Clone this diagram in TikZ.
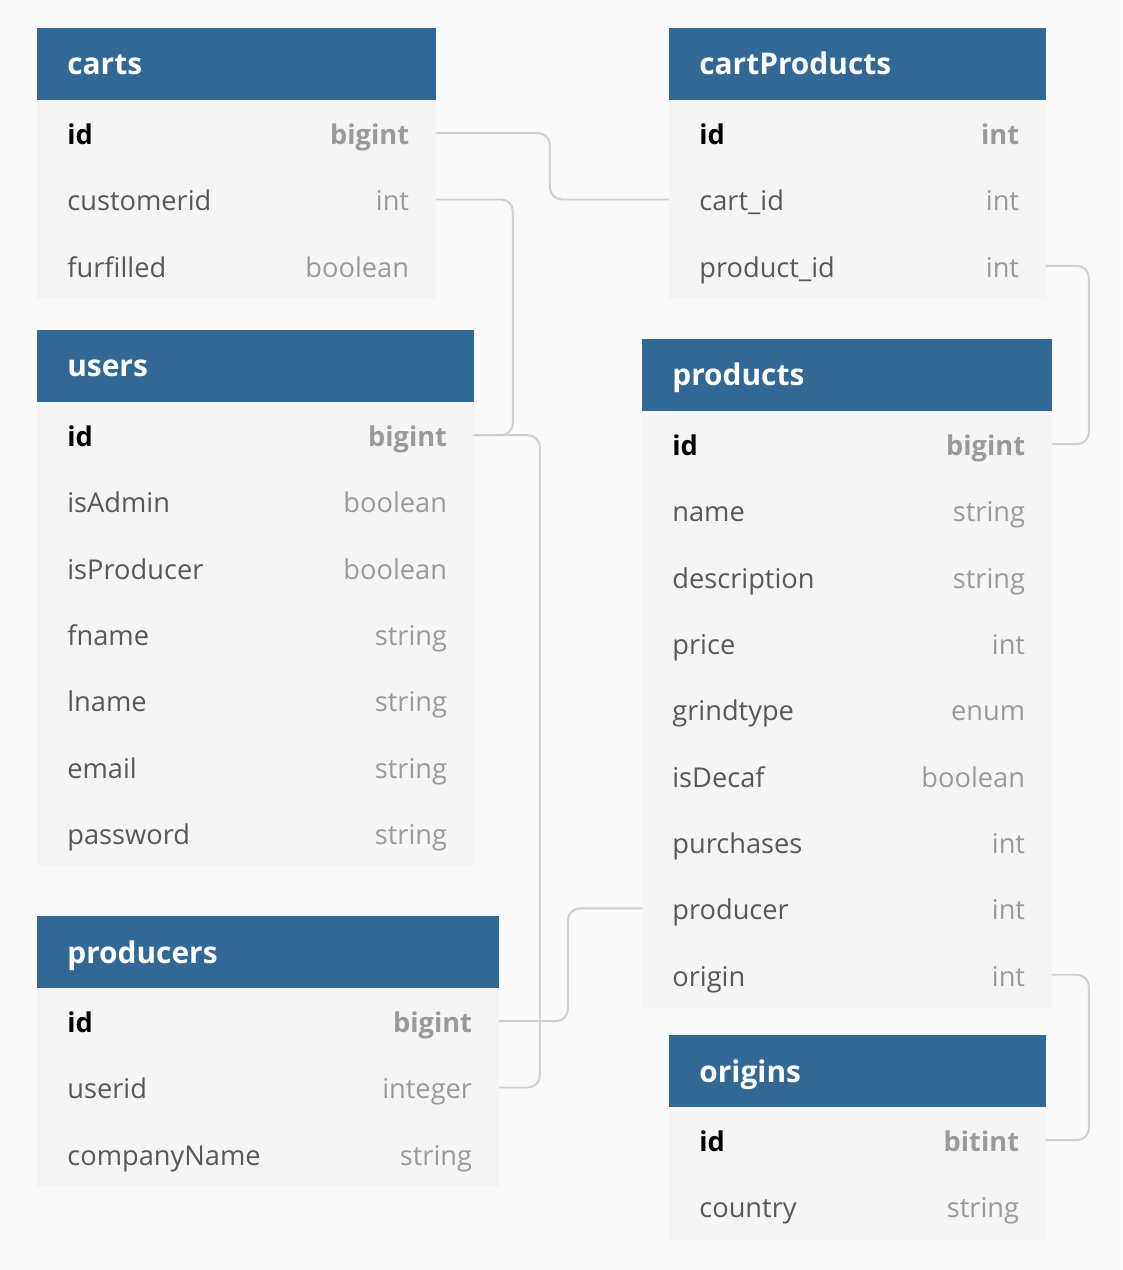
\documentclass[tikz,border=0pt]{standalone}
\usepackage{fontspec}
\setmainfont{Open Sans}
\usetikzlibrary{positioning}
\definecolor{hdrblue}{HTML}{316896}
\definecolor{rowgray}{HTML}{F5F5F5}
\definecolor{pagegray}{HTML}{FAFAFA}
\definecolor{namegray}{HTML}{585858}
\definecolor{typegray}{HTML}{9A9A9A}
\definecolor{linkgray}{HTML}{D0D0D0}
\def\field[#1](#2)(#3)#4#5{%
  \node[row, minimum width=#1, below=0pt of #2] (#3) {};
  \node[fname] (#3-n) at (#3.west) {#4};
  \node[ftype] (#3-t) at (#3.east) {#5};}
\def\keyfield[#1](#2)(#3)#4{%
  \node[row, minimum width=#1, below=0pt of #2] (#3) {};
  \node[kname] (#3-n) at (#3.west) {id};
  \node[ktype] (#3-t) at (#3.east) {#4};}
\tikzset{
  hdr/.style={fill=hdrblue, minimum height=1.44cm, anchor=north west, inner sep=0pt, outer sep=0pt},
  row/.style={fill=rowgray, minimum height=1.3267cm, inner sep=0pt, outer sep=0pt},
  txt/.style={inner sep=0pt, font=\fontsize{15.5}{18}\selectfont},
  htitle/.style={txt, anchor=base west, xshift=0.6cm, yshift=-0.22cm, text=white, font=\fontsize{17}{20}\selectfont\bfseries},
  fname/.style={txt, anchor=base west, xshift=0.6cm, yshift=-0.23cm, text=namegray},
  ftype/.style={txt, anchor=base east, xshift=-0.53cm, yshift=-0.23cm, text=typegray},
  kname/.style={fname, text=black, font=\fontsize{15.5}{18}\selectfont\bfseries},
  ktype/.style={ftype, font=\fontsize{15.5}{18}\selectfont\bfseries},
  link/.style={draw=linkgray, line width=1.1pt, rounded corners=0.24cm}
}
\begin{document}
\begin{tikzpicture}[x=0.02cm, y=-0.02cm]
		%%%%% START %%%%%
		
		\fill[pagegray] (0, 0) rectangle (1122, 1270);
		\useasboundingbox (0, 0) rectangle (1122, 1270);
		
		%% carts
		\node[hdr, minimum width=7.98cm] (carts) at (37, 28) {};
		\node[htitle] (carts-n) at (carts.west) {carts};
		\keyfield[7.98cm](carts)(carts-id){bigint}
		\field[7.98cm](carts-id)(carts-customerid){customerid}{int}
		\field[7.98cm](carts-customerid)(carts-furfilled){furfilled}{boolean}
		
		%% cartProducts
		\node[hdr, minimum width=7.54cm] (cartProducts) at (669, 28) {};
		\node[htitle] (cartProducts-n) at (cartProducts.west) {cartProducts};
		\keyfield[7.54cm](cartProducts)(cartProducts-id){int}
		\field[7.54cm](cartProducts-id)(cartProducts-cart){cart\_id}{int}
		\field[7.54cm](cartProducts-cart)(cartProducts-product){product\_id}{int}
		
		%% users
		\node[hdr, minimum width=8.74cm] (users) at (37, 330) {};
		\node[htitle] (users-n) at (users.west) {users};
		\keyfield[8.74cm](users)(users-id){bigint}
		\field[8.74cm](users-id)(users-isAdmin){isAdmin}{boolean}
		\field[8.74cm](users-isAdmin)(users-isProducer){isProducer}{boolean}
		\field[8.74cm](users-isProducer)(users-fname){fname}{string}
		\field[8.74cm](users-fname)(users-lname){lname}{string}
		\field[8.74cm](users-lname)(users-email){email}{string}
		\field[8.74cm](users-email)(users-password){password}{string}
		
		%% products
		\node[hdr, minimum width=8.2cm] (products) at (642, 339) {};
		\node[htitle] (products-n) at (products.west) {products};
		\keyfield[8.2cm](products)(products-id){bigint}
		\field[8.2cm](products-id)(products-name){name}{string}
		\field[8.2cm](products-name)(products-description){description}{string}
		\field[8.2cm](products-description)(products-price){price}{int}
		\field[8.2cm](products-price)(products-grindtype){grindtype}{enum}
		\field[8.2cm](products-grindtype)(products-isDecaf){isDecaf}{boolean}
		\field[8.2cm](products-isDecaf)(products-purchases){purchases}{int}
		\field[8.2cm](products-purchases)(products-producer){producer}{int}
		\field[8.2cm](products-producer)(products-origin){origin}{int}
		
		%% producers
		\node[hdr, minimum width=9.24cm] (producers) at (37, 916) {};
		\node[htitle] (producers-n) at (producers.west) {producers};
		\keyfield[9.24cm](producers)(producers-id){bigint}
		\field[9.24cm](producers-id)(producers-userid){userid}{integer}
		\field[9.24cm](producers-userid)(producers-company){companyName}{string}
		
		%% origins
		\node[hdr, minimum width=7.54cm] (origins) at (669, 1035) {};
		\node[htitle] (origins-n) at (origins.west) {origins};
		\keyfield[7.54cm](origins)(origins-id){bitint}
		\field[7.54cm](origins-id)(origins-country){country}{string}
		
		%% links
		\draw[link] (carts-id.east) -- ([xshift=2.28cm]carts-id.east) |- (cartProducts-cart.west);
		\draw[link] (carts-customerid.east) -- ([xshift=1.54cm]carts-customerid.east) |- (users-id.east);
		\draw[link] (users-id.east) -- ([xshift=1.32cm]users-id.east) |- (producers-userid.east);
		\draw[link] (producers-id.east) -- ([xshift=1.38cm]producers-id.east) |- (products-producer.west);
		\draw[link] (cartProducts-product.east) -- ([xshift=0.86cm]cartProducts-product.east) |- (products-id.east);
		\draw[link] (products-origin.east) -- ([xshift=0.74cm]products-origin.east) |- (origins-id.east);
		
		%%%%% END %%%%%
	\end{tikzpicture}
\end{document}
